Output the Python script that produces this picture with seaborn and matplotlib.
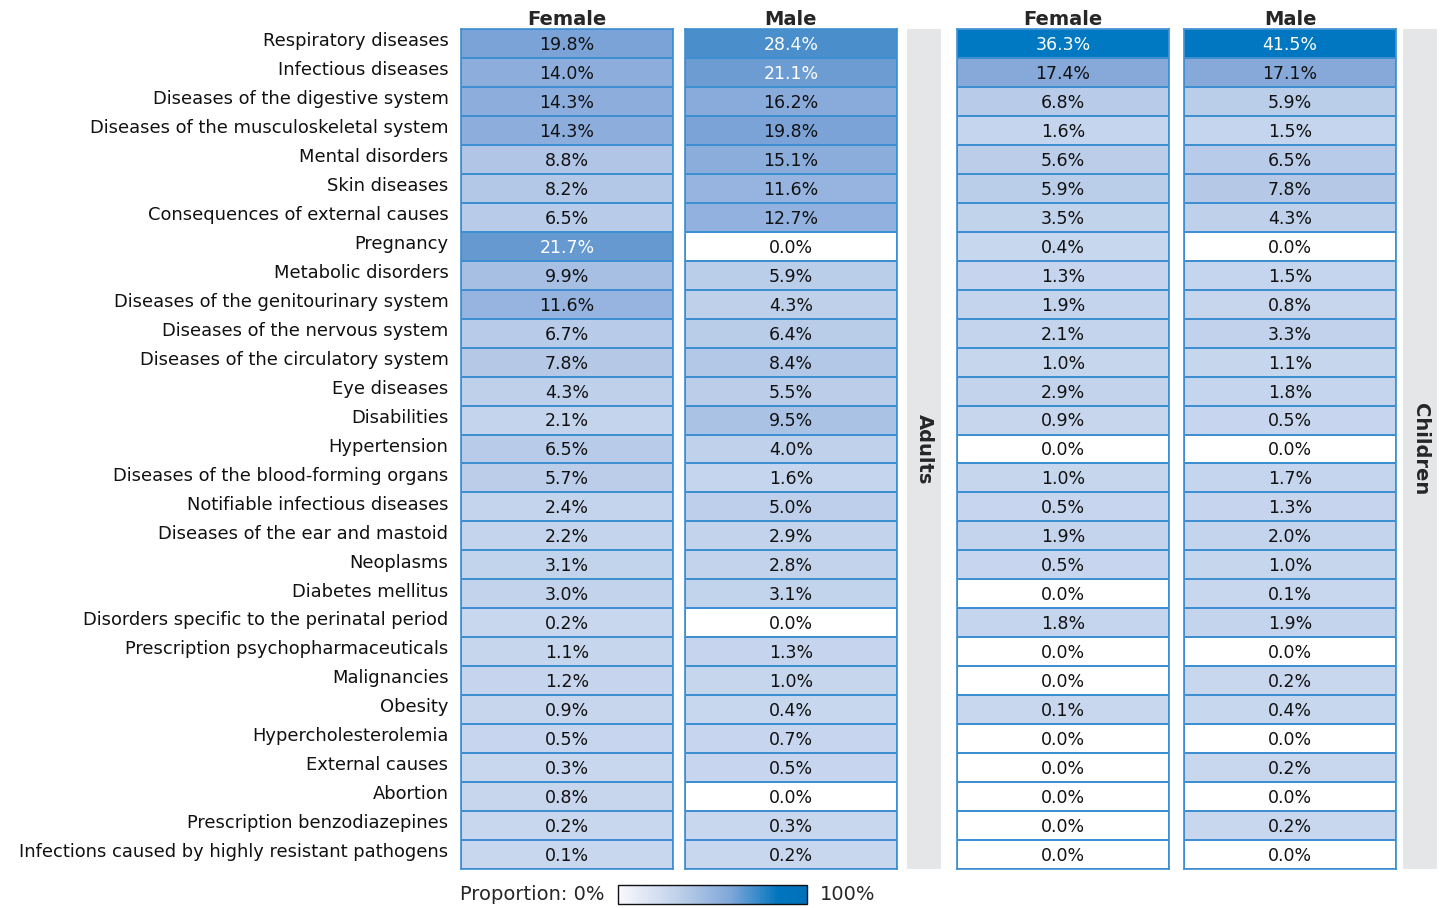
import numpy as np
import pandas as pd
import seaborn as sns
import matplotlib.pyplot as plt
from matplotlib.colors import LinearSegmentedColormap, Normalize
from matplotlib.cm import ScalarMappable

categories = [
    "Respiratory diseases", "Infectious diseases", "Diseases of the digestive system",
    "Diseases of the musculoskeletal system", "Mental disorders", "Skin diseases",
    "Consequences of external causes", "Pregnancy", "Metabolic disorders",
    "Diseases of the genitourinary system", "Diseases of the nervous system",
    "Diseases of the circulatory system", "Eye diseases", "Disabilities", "Hypertension",
    "Diseases of the blood-forming organs", "Notifiable infectious diseases",
    "Diseases of the ear and mastoid", "Neoplasms", "Diabetes mellitus",
    "Disorders specific to the perinatal period", "Prescription psychopharmaceuticals",
    "Malignancies", "Obesity", "Hypercholesterolemia", "External causes", "Abortion",
    "Prescription benzodiazepines", "Infections caused by highly resistant pathogens",
]
adults_female = [19.8, 14.0, 14.3, 14.3, 8.8, 8.2, 6.5, 21.7, 9.9, 11.6, 6.7, 7.8, 4.3, 2.1, 6.5,
                 5.7, 2.4, 2.2, 3.1, 3.0, 0.2, 1.1, 1.2, 0.9, 0.5, 0.3, 0.8, 0.2, 0.1]
adults_male = [28.4, 21.1, 16.2, 19.8, 15.1, 11.6, 12.7, 0.0, 5.9, 4.3, 6.4, 8.4, 5.5, 9.5, 4.0,
               1.6, 5.0, 2.9, 2.8, 3.1, 0.0, 1.3, 1.0, 0.4, 0.7, 0.5, 0.0, 0.3, 0.2]
children_female = [36.3, 17.4, 6.8, 1.6, 5.6, 5.9, 3.5, 0.4, 1.3, 1.9, 2.1, 1.0, 2.9, 0.9, 0.0,
                   1.0, 0.5, 1.9, 0.5, 0.0, 1.8, 0.0, 0.0, 0.1, 0.0, 0.0, 0.0, 0.0, 0.0]
children_male = [41.5, 17.1, 5.9, 1.5, 6.5, 7.8, 4.3, 0.0, 1.5, 0.8, 3.3, 1.1, 1.8, 0.5, 0.0,
                 1.7, 1.3, 2.0, 1.0, 0.1, 1.9, 0.0, 0.2, 0.4, 0.0, 0.2, 0.0, 0.2, 0.0]
sexes = ["Female", "Male"]
groups = ["Adults", "Children"]

sns.set_theme(style="white")
plt.rcParams['font.family'] = ['DejaVu Sans']

W, H = 1443, 908
fig = plt.figure(figsize=(W / 100, H / 100), dpi=100)


def box(x0, y0, x1, y1):
    return [x0 / W, 1 - y1 / H, (x1 - x0) / W, (y1 - y0) / H]


vmax = max(max(adults_female), max(adults_male), max(children_female), max(children_male))
cell_cmap = LinearSegmentedColormap.from_list("cells", [
    (0.0, "#ffffff"), (0.001, "#c8d7ee"), (0.07, "#c3d3ec"), (0.16, "#b8cbe8"),
    (0.21, "#b2c7e6"), (0.28, "#96b4df"), (0.34, "#8daedd"), (0.42, "#86a9da"),
    (0.48, "#7ca3d8"), (0.52, "#6699cf"), (0.68, "#4d8fcc"), (0.87, "#0079c2"),
    (1.0, "#0077c0")], N=20000)
legend_cmap = LinearSegmentedColormap.from_list("legend", [
    (0.0, "#f8f9fd"), (0.3, "#c3d3eb"), (0.6, "#7ea6d8"), (0.85, "#0075be"), (1.0, "#0071bb")])

BORDER = "#3d8fd1"
layout = {
    ("Adults", "Female"): (461, 673), ("Adults", "Male"): (685, 897),
    ("Children", "Female"): (957, 1169), ("Children", "Male"): (1184, 1396),
}
strips = {"Adults": (907, 941), "Children": (1403, 1437)}
values = {
    ("Adults", "Female"): adults_female, ("Adults", "Male"): adults_male,
    ("Children", "Female"): children_female, ("Children", "Male"): children_male,
}

first = True
for g in groups:
    for s in sexes:
        x0, x1 = layout[(g, s)]
        ax = fig.add_axes(box(x0, 29, x1, 869))
        vals = values[(g, s)]
        df = pd.DataFrame({s: vals}, index=categories)
        labels = np.array([[f"{v:.1f}%"] for v in vals])
        sns.heatmap(df, ax=ax, cmap=cell_cmap, vmin=0, vmax=vmax, annot=labels, fmt="",
                    cbar=False, linewidths=1.2, linecolor=BORDER,
                    annot_kws={"fontsize": 12.5})
        for t, v in zip(ax.texts, vals):
            t.set_color("white" if v > 20 else "#111111")
            t.set_y(t.get_position()[1] + 0.05)
        ax.set_xticks([])
        ax.set_xlabel("")
        ax.set_ylabel("")
        ax.set_title(s, fontweight="bold", fontsize=14, pad=0)
        if first:
            ax.set_yticks(np.arange(len(categories)) + 0.42)
            ax.set_yticklabels(categories, rotation=0, fontsize=12.9, color="#111111")
            ax.tick_params(axis="y", length=0, pad=9)
            first = False
        else:
            ax.set_yticks([])
        for sp in ax.spines.values():
            sp.set_visible(True)
            sp.set_color(BORDER)
            sp.set_linewidth(1.2)
    sx0, sx1 = strips[g]
    axs = fig.add_axes(box(sx0, 29, sx1, 869))
    axs.set_facecolor("#e5e6e8")
    axs.set_xticks([])
    axs.set_yticks([])
    for sp in axs.spines.values():
        sp.set_visible(False)
    axs.text(0.5, 0.5, g, rotation=-90, ha="center", va="center", fontweight="bold",
             fontsize=14, transform=axs.transAxes)

# legend
fig.text(460 / W, 1 - 895 / H, "Proportion: 0%", ha="left", va="center", fontsize=14)
cax = fig.add_axes(box(618, 885, 807, 904))
cb = fig.colorbar(ScalarMappable(norm=Normalize(0, 100), cmap=legend_cmap), cax=cax,
                  orientation="horizontal")
cb.set_ticks([])
cb.outline.set_edgecolor("#111111")
cb.outline.set_linewidth(1)
fig.text(820 / W, 1 - 895 / H, "100%", ha="left", va="center", fontsize=14)

fig.savefig("out.png", dpi=100)
